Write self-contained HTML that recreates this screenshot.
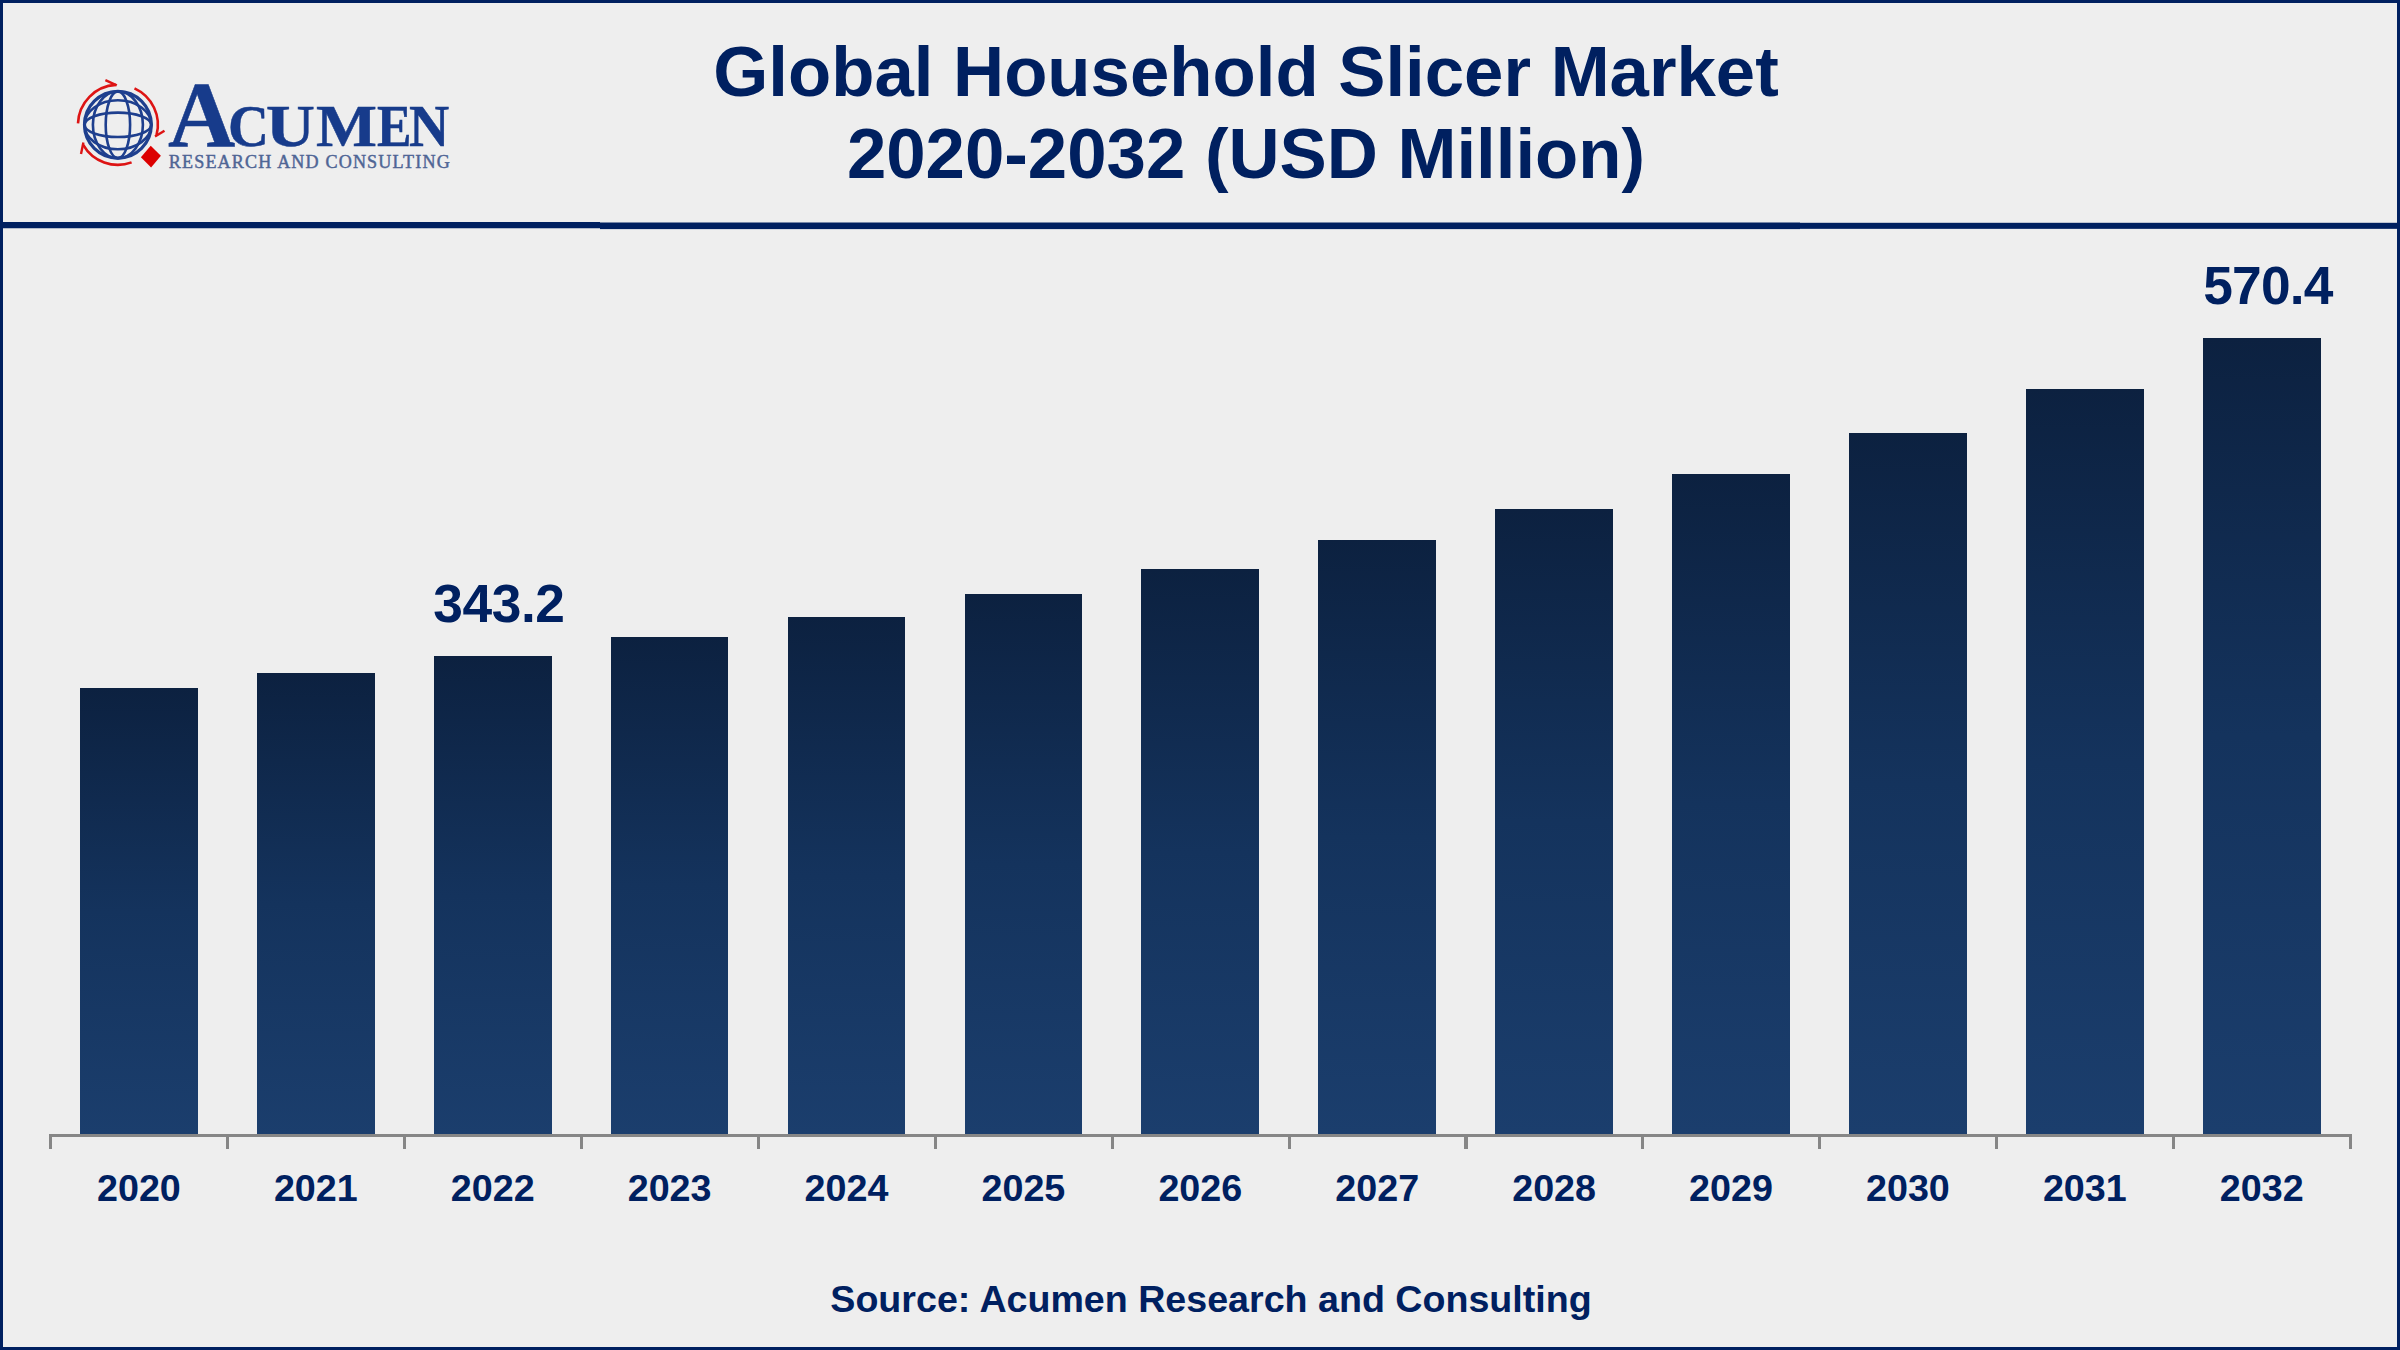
<!DOCTYPE html>
<html lang="en"><head><meta charset="utf-8"><title>Global Household Slicer Market 2020-2032 (USD Million)</title>
<style>
html,body{margin:0;padding:0;}
body{width:2400px;height:1350px;overflow:hidden;background:#eeeeee;position:relative;font-family:"Liberation Sans",sans-serif;}
.frame{position:absolute;left:0;top:0;width:2394px;height:1344px;border:3px solid #002060;}
.rule{position:absolute;left:0;top:222px;width:2400px;height:6px;background:#002060;}
.title{position:absolute;left:646px;top:31.2px;width:1200px;text-align:center;color:#002060;font-weight:bold;font-size:70.75px;line-height:82.05px;white-space:nowrap;}
.bar{position:absolute;width:117.8px;background:linear-gradient(to bottom,#0c2140 0%,#14335d 50%,#1b3e6d 100%);}
.axis{position:absolute;left:49.2px;top:1134px;width:2303px;height:3px;background:#868686;}
.tick{position:absolute;top:1134px;width:3.2px;height:14.6px;background:#868686;}
.yr{position:absolute;top:1166px;width:177px;text-align:center;color:#002060;font-weight:bold;font-size:37.7px;line-height:44px;white-space:nowrap;}
.val{position:absolute;color:#002060;font-weight:bold;font-size:53.3px;line-height:60px;white-space:nowrap;text-align:center;width:200px;}
.src{position:absolute;left:611px;top:1276px;width:1200px;text-align:center;color:#002060;font-weight:bold;font-size:37.62px;line-height:46px;white-space:nowrap;}
.logo{position:absolute;left:60px;top:60px;}
.brand{position:absolute;left:0;top:0;font-family:"Liberation Serif",serif;font-weight:bold;color:#173b8b;-webkit-text-stroke:0.5px #173b8b;}
.brand span{position:absolute;line-height:1;transform-origin:0 0;white-space:nowrap;}
.tagline{position:absolute;left:168.75px;top:152.94px;font-family:"Liberation Serif",serif;font-size:18.1px;line-height:1;letter-spacing:1.15px;color:#4f6595;-webkit-text-stroke:0.45px #4f6595;white-space:nowrap;}
</style></head><body>
<div class="frame"></div>
<div class="rule" style="left:0px;width:600px;top:222px;height:6px;background:#002060"></div><div class="rule" style="left:0px;width:600px;top:228px;height:1px;background:rgba(0,32,96,0.25)"></div><div class="rule" style="left:600px;width:1200px;top:222px;height:1px;background:rgba(0,32,96,0.5)"></div><div class="rule" style="left:600px;width:1200px;top:223px;height:6px;background:#002060"></div><div class="rule" style="left:600px;width:1200px;top:229px;height:1px;background:rgba(0,32,96,0.1)"></div><div class="rule" style="left:1800px;width:600px;top:222px;height:1px;background:rgba(0,32,96,0.2)"></div><div class="rule" style="left:1800px;width:600px;top:223px;height:5px;background:#002060"></div><div class="rule" style="left:1800px;width:600px;top:228px;height:1px;background:rgba(0,32,96,0.85)"></div>
<div class="title">Global Household Slicer Market<br>2020-2032 (USD Million)</div>

<svg class="logo" width="130" height="130" viewBox="60 60 130 130">
<g fill="none" stroke="#1e3f8e" stroke-width="2.6">
<circle cx="117.9" cy="124.8" r="33.4" stroke-width="3.2"/>
<ellipse cx="117.9" cy="124.8" rx="12.2" ry="33.4"/>
<ellipse cx="117.9" cy="124.8" rx="25" ry="33.4"/>
<ellipse cx="117.9" cy="124.8" rx="33.4" ry="12.2"/>
<ellipse cx="117.9" cy="124.8" rx="33.4" ry="24.5"/>
</g>
<g fill="none" stroke="#dd1414" stroke-width="2.6" stroke-linecap="butt">
<path d="M78.0 123.4 A40 40 0 0 1 115.8 84.9"/>
<path d="M116.8 85.4 L105.4 80.2" stroke-width="2.4"/>
<path d="M134.5 88.4 A40 40 0 0 1 156.5 135.2"/>
<path d="M155 136.6 L164.5 130.7" stroke-width="2.4"/>
<path d="M131.6 162.4 A40 40 0 0 1 83.2 144.8"/>
<path d="M83.4 142.5 L81 154" stroke-width="2.4"/>
</g>
<polygon points="150.7,145.8 160.9,155.8 151.1,167.4 140.9,157.2" fill="#dc0000"/>
</svg>
<div class="brand"><span style="left:167.87px;top:68.28px;font-size:93.4px;transform:scaleX(0.997)">A</span><span style="left:227.91px;top:97.09px;font-size:59.0px;transform:scaleX(0.962)">C</span><span style="left:266.35px;top:97.09px;font-size:59.0px;transform:scaleX(1.147)">U</span><span style="left:316.21px;top:97.09px;font-size:59.0px;transform:scaleX(1.095)">M</span><span style="left:376.57px;top:97.09px;font-size:59.0px;transform:scaleX(0.876)">E</span><span style="left:409.39px;top:97.09px;font-size:59.0px;transform:scaleX(0.943)">N</span></div>
<div class="tagline">RESEARCH AND CONSULTING</div>
<div class="bar" style="left:80.0px;top:687.8px;height:446.7px"></div>
<div class="bar" style="left:256.9px;top:672.5px;height:462.0px"></div>
<div class="bar" style="left:433.8px;top:655.5px;height:479.0px"></div>
<div class="bar" style="left:610.7px;top:636.7px;height:497.8px"></div>
<div class="bar" style="left:787.6px;top:616.7px;height:517.8px"></div>
<div class="bar" style="left:964.5px;top:593.8px;height:540.7px"></div>
<div class="bar" style="left:1141.4px;top:568.7px;height:565.8px"></div>
<div class="bar" style="left:1318.3px;top:539.7px;height:594.8px"></div>
<div class="bar" style="left:1495.2px;top:508.7px;height:625.8px"></div>
<div class="bar" style="left:1672.1px;top:473.8px;height:660.7px"></div>
<div class="bar" style="left:1849.0px;top:433.3px;height:701.2px"></div>
<div class="bar" style="left:2025.9px;top:388.7px;height:745.8px"></div>
<div class="bar" style="left:2202.8px;top:338.1px;height:796.4px"></div>
<div class="axis"></div>
<div class="tick" style="left:49.2px"></div>
<div class="tick" style="left:226.1px"></div>
<div class="tick" style="left:403.0px"></div>
<div class="tick" style="left:579.9px"></div>
<div class="tick" style="left:756.8px"></div>
<div class="tick" style="left:933.7px"></div>
<div class="tick" style="left:1110.6px"></div>
<div class="tick" style="left:1287.5px"></div>
<div class="tick" style="left:1464.4px"></div>
<div class="tick" style="left:1641.3px"></div>
<div class="tick" style="left:1818.2px"></div>
<div class="tick" style="left:1995.1px"></div>
<div class="tick" style="left:2172.0px"></div>
<div class="tick" style="left:2348.9px"></div>
<div class="yr" style="left:50.4px">2020</div>
<div class="yr" style="left:227.3px">2021</div>
<div class="yr" style="left:404.2px">2022</div>
<div class="yr" style="left:581.1px">2023</div>
<div class="yr" style="left:758.0px">2024</div>
<div class="yr" style="left:934.9px">2025</div>
<div class="yr" style="left:1111.8px">2026</div>
<div class="yr" style="left:1288.7px">2027</div>
<div class="yr" style="left:1465.6px">2028</div>
<div class="yr" style="left:1642.5px">2029</div>
<div class="yr" style="left:1819.4px">2030</div>
<div class="yr" style="left:1996.3px">2031</div>
<div class="yr" style="left:2173.2px">2032</div>
<div class="val" style="left:398.9px;top:573.7px;letter-spacing:-0.45px">343.2</div>
<div class="val" style="left:2167.9px;top:255.9px;letter-spacing:-0.85px">570.4</div>
<div class="src">Source: Acumen Research and Consulting</div>
</body></html>
